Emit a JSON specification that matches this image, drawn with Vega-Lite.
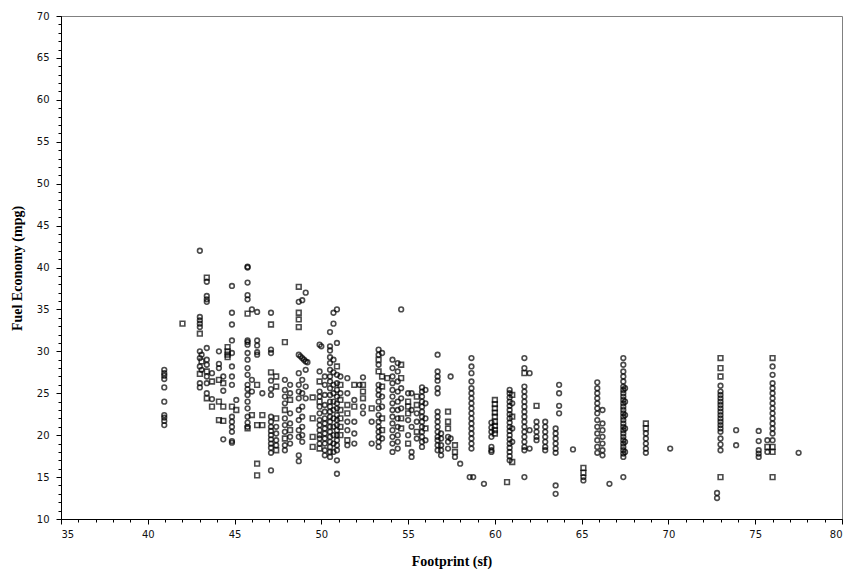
{
"$schema":"https://vega.github.io/schema/vega-lite/v6.json",
"autosize":"none",
"width":781,"height":503,
"padding":{"left":61,"top":16,"right":13,"bottom":66},
"background":"white",
"config":{"view":{"stroke":"#808080","strokeWidth":1}},
"data":{"values":[
{"x":40.95,"y":27.8,"s":"c"},{"x":40.95,"y":27.4,"s":"c"},{"x":40.95,"y":27.1,"s":"c"},{"x":40.95,"y":26.7,"s":"c"},{"x":40.95,"y":25.7,"s":"c"},{"x":40.95,"y":24.0,"s":"c"},{"x":40.95,"y":22.4,"s":"c"},{"x":40.95,"y":22.1,"s":"c"},{"x":40.95,"y":21.7,"s":"c"},{"x":40.95,"y":21.2,"s":"c"},
{"x":42.0,"y":33.3,"s":"q"},
{"x":43.0,"y":42.0,"s":"c"},{"x":43.0,"y":34.1,"s":"c"},{"x":43.0,"y":33.7,"s":"c"},{"x":43.0,"y":33.3,"s":"c"},{"x":43.0,"y":32.9,"s":"c"},{"x":43.0,"y":32.1,"s":"q"},{"x":43.0,"y":30.0,"s":"c"},{"x":43.0,"y":29.2,"s":"c"},{"x":43.0,"y":28.2,"s":"c"},{"x":43.0,"y":27.3,"s":"q"},{"x":43.0,"y":26.2,"s":"c"},{"x":43.0,"y":25.7,"s":"c"},
{"x":43.1,"y":29.6,"s":"c"},{"x":43.1,"y":28.8,"s":"q"},{"x":43.1,"y":27.8,"s":"c"},
{"x":43.4,"y":38.8,"s":"q"},{"x":43.4,"y":38.3,"s":"c"},{"x":43.4,"y":36.6,"s":"c"},{"x":43.4,"y":36.2,"s":"c"},{"x":43.4,"y":35.9,"s":"c"},{"x":43.4,"y":30.4,"s":"c"},{"x":43.4,"y":29.0,"s":"c"},{"x":43.4,"y":28.4,"s":"c"},{"x":43.4,"y":27.6,"s":"q"},{"x":43.4,"y":27.0,"s":"c"},{"x":43.4,"y":26.2,"s":"c"},{"x":43.4,"y":25.0,"s":"c"},{"x":43.4,"y":24.4,"s":"q"},
{"x":43.7,"y":27.4,"s":"c"},{"x":43.7,"y":24.3,"s":"c"},{"x":43.7,"y":23.4,"s":"q"},{"x":43.7,"y":26.4,"s":"q"},
{"x":44.1,"y":30.0,"s":"c"},{"x":44.1,"y":28.5,"s":"c"},{"x":44.1,"y":28.0,"s":"c"},{"x":44.1,"y":26.6,"s":"q"},{"x":44.1,"y":24.0,"s":"q"},{"x":44.1,"y":21.8,"s":"q"},
{"x":44.35,"y":27.0,"s":"c"},{"x":44.35,"y":26.2,"s":"q"},{"x":44.35,"y":25.3,"s":"c"},{"x":44.35,"y":23.4,"s":"q"},{"x":44.35,"y":21.7,"s":"q"},{"x":44.35,"y":19.5,"s":"c"},
{"x":44.6,"y":30.5,"s":"q"},{"x":44.6,"y":30.0,"s":"q"},{"x":44.6,"y":29.6,"s":"q"},{"x":44.6,"y":29.3,"s":"q"},
{"x":44.85,"y":37.8,"s":"c"},{"x":44.85,"y":34.6,"s":"c"},{"x":44.85,"y":33.2,"s":"c"},{"x":44.85,"y":31.3,"s":"c"},{"x":44.85,"y":29.8,"s":"c"},{"x":44.85,"y":28.2,"s":"c"},{"x":44.85,"y":27.0,"s":"c"},{"x":44.85,"y":26.0,"s":"c"},{"x":44.85,"y":23.4,"s":"q"},{"x":44.85,"y":22.2,"s":"c"},{"x":44.85,"y":21.6,"s":"c"},{"x":44.85,"y":21.0,"s":"c"},{"x":44.85,"y":20.4,"s":"c"},{"x":44.85,"y":19.3,"s":"c"},{"x":44.85,"y":19.1,"s":"c"},
{"x":45.1,"y":24.2,"s":"c"},{"x":45.1,"y":23.0,"s":"q"},
{"x":45.75,"y":40.1,"s":"c"},{"x":45.75,"y":40.0,"s":"c"},{"x":45.75,"y":38.2,"s":"c"},{"x":45.75,"y":36.7,"s":"c"},{"x":45.75,"y":36.2,"s":"c"},{"x":45.75,"y":34.5,"s":"q"},{"x":45.75,"y":31.3,"s":"c"},{"x":45.75,"y":31.1,"s":"c"},{"x":45.75,"y":30.8,"s":"c"},{"x":45.75,"y":29.8,"s":"c"},{"x":45.75,"y":29.0,"s":"c"},{"x":45.75,"y":28.0,"s":"c"},{"x":45.75,"y":27.2,"s":"c"},{"x":45.75,"y":26.0,"s":"c"},{"x":45.75,"y":25.5,"s":"c"},{"x":45.75,"y":24.8,"s":"c"},{"x":45.75,"y":24.0,"s":"c"},{"x":45.75,"y":23.2,"s":"c"},{"x":45.75,"y":22.2,"s":"c"},{"x":45.75,"y":21.0,"s":"c"},{"x":45.75,"y":20.8,"s":"q"},{"x":45.75,"y":21.5,"s":"c"},
{"x":46.0,"y":35.0,"s":"c"},{"x":46.0,"y":26.6,"s":"c"},{"x":46.0,"y":25.2,"s":"c"},{"x":46.0,"y":22.4,"s":"q"},
{"x":46.3,"y":34.7,"s":"c"},{"x":46.3,"y":31.3,"s":"c"},{"x":46.3,"y":30.7,"s":"c"},{"x":46.3,"y":29.9,"s":"c"},{"x":46.3,"y":29.6,"s":"c"},{"x":46.3,"y":26.0,"s":"q"},{"x":46.3,"y":21.2,"s":"q"},{"x":46.3,"y":16.6,"s":"q"},{"x":46.3,"y":15.2,"s":"q"},
{"x":46.6,"y":22.4,"s":"q"},{"x":46.6,"y":21.2,"s":"q"},{"x":46.6,"y":25.0,"s":"c"},
{"x":47.1,"y":34.6,"s":"c"},{"x":47.1,"y":33.2,"s":"q"},{"x":47.1,"y":30.2,"s":"c"},{"x":47.1,"y":29.8,"s":"c"},{"x":47.1,"y":27.5,"s":"q"},{"x":47.1,"y":26.5,"s":"c"},{"x":47.1,"y":25.5,"s":"c"},{"x":47.1,"y":24.8,"s":"c"},{"x":47.1,"y":22.2,"s":"c"},{"x":47.1,"y":21.6,"s":"c"},{"x":47.1,"y":21.0,"s":"c"},{"x":47.1,"y":20.5,"s":"c"},{"x":47.1,"y":20.0,"s":"c"},{"x":47.1,"y":19.5,"s":"c"},{"x":47.1,"y":19.0,"s":"c"},{"x":47.1,"y":18.5,"s":"c"},{"x":47.1,"y":17.9,"s":"c"},{"x":47.1,"y":15.8,"s":"c"},
{"x":47.4,"y":27.0,"s":"q"},{"x":47.4,"y":25.8,"s":"q"},{"x":47.4,"y":22.0,"s":"q"},{"x":47.4,"y":21.0,"s":"c"},{"x":47.4,"y":20.2,"s":"c"},{"x":47.4,"y":19.4,"s":"c"},{"x":47.4,"y":18.8,"s":"c"},{"x":47.4,"y":18.2,"s":"q"},
{"x":47.9,"y":31.1,"s":"q"},{"x":47.9,"y":26.6,"s":"c"},{"x":47.9,"y":25.4,"s":"c"},{"x":47.9,"y":24.6,"s":"c"},{"x":47.9,"y":23.8,"s":"c"},{"x":47.9,"y":23.0,"s":"q"},{"x":47.9,"y":22.0,"s":"c"},{"x":47.9,"y":21.2,"s":"c"},{"x":47.9,"y":20.4,"s":"c"},{"x":47.9,"y":19.6,"s":"q"},{"x":47.9,"y":18.8,"s":"c"},{"x":47.9,"y":18.2,"s":"c"},
{"x":48.2,"y":26.0,"s":"c"},{"x":48.2,"y":25.0,"s":"c"},{"x":48.2,"y":24.2,"s":"q"},{"x":48.2,"y":22.6,"s":"c"},{"x":48.2,"y":21.4,"s":"c"},{"x":48.2,"y":20.6,"s":"q"},{"x":48.2,"y":19.8,"s":"c"},{"x":48.2,"y":19.0,"s":"c"},
{"x":48.7,"y":37.7,"s":"q"},{"x":48.7,"y":35.9,"s":"c"},{"x":48.7,"y":34.6,"s":"q"},{"x":48.7,"y":33.8,"s":"q"},{"x":48.7,"y":32.9,"s":"q"},{"x":48.7,"y":29.6,"s":"c"},{"x":48.8,"y":29.4,"s":"c"},{"x":48.9,"y":29.2,"s":"c"},{"x":48.7,"y":27.4,"s":"c"},{"x":48.7,"y":26.0,"s":"c"},{"x":48.7,"y":25.2,"s":"c"},{"x":48.7,"y":24.4,"s":"c"},{"x":48.7,"y":23.0,"s":"c"},{"x":48.7,"y":21.8,"s":"c"},{"x":48.7,"y":20.6,"s":"c"},{"x":48.7,"y":19.8,"s":"c"},{"x":48.7,"y":17.6,"s":"c"},{"x":48.7,"y":16.9,"s":"c"},
{"x":48.9,"y":36.1,"s":"c"},{"x":49.0,"y":29.0,"s":"c"},{"x":49.1,"y":28.8,"s":"c"},{"x":48.9,"y":26.6,"s":"c"},{"x":48.9,"y":25.0,"s":"c"},{"x":48.9,"y":23.4,"s":"c"},{"x":48.9,"y":22.2,"s":"c"},{"x":48.9,"y":21.0,"s":"c"},{"x":48.9,"y":20.0,"s":"c"},{"x":48.9,"y":19.2,"s":"c"},
{"x":49.1,"y":37.0,"s":"c"},{"x":49.2,"y":28.7,"s":"c"},{"x":49.1,"y":27.8,"s":"c"},{"x":49.1,"y":25.8,"s":"c"},{"x":49.1,"y":24.4,"s":"c"},
{"x":49.5,"y":19.8,"s":"q"},{"x":49.5,"y":18.6,"s":"q"},{"x":49.5,"y":24.5,"s":"q"},{"x":49.5,"y":22.0,"s":"q"},
{"x":49.9,"y":30.8,"s":"c"},{"x":50.0,"y":30.6,"s":"c"},{"x":49.9,"y":27.6,"s":"c"},{"x":49.9,"y":26.4,"s":"q"},{"x":49.9,"y":25.2,"s":"c"},{"x":49.9,"y":24.6,"s":"c"},{"x":49.9,"y":24.0,"s":"q"},{"x":49.9,"y":23.4,"s":"c"},{"x":49.9,"y":22.6,"s":"c"},{"x":49.9,"y":21.8,"s":"c"},{"x":49.9,"y":21.2,"s":"c"},{"x":49.9,"y":20.6,"s":"c"},{"x":49.9,"y":20.0,"s":"c"},{"x":49.9,"y":19.6,"s":"c"},{"x":49.9,"y":19.0,"s":"c"},{"x":49.9,"y":18.4,"s":"q"},
{"x":50.2,"y":27.0,"s":"c"},{"x":50.2,"y":26.0,"s":"c"},{"x":50.2,"y":24.8,"s":"c"},{"x":50.2,"y":23.6,"s":"c"},{"x":50.2,"y":22.8,"s":"c"},{"x":50.2,"y":22.0,"s":"c"},{"x":50.2,"y":21.4,"s":"c"},{"x":50.2,"y":20.8,"s":"c"},{"x":50.2,"y":20.2,"s":"c"},{"x":50.2,"y":19.6,"s":"c"},{"x":50.2,"y":19.0,"s":"c"},{"x":50.2,"y":18.2,"s":"c"},{"x":50.2,"y":17.6,"s":"c"},
{"x":50.5,"y":32.3,"s":"c"},{"x":50.5,"y":30.6,"s":"c"},{"x":50.5,"y":30.1,"s":"c"},{"x":50.5,"y":29.3,"s":"c"},{"x":50.5,"y":28.6,"s":"c"},{"x":50.5,"y":27.8,"s":"c"},{"x":50.5,"y":27.0,"s":"c"},{"x":50.5,"y":26.4,"s":"c"},{"x":50.5,"y":25.6,"s":"c"},{"x":50.5,"y":24.8,"s":"c"},{"x":50.5,"y":24.0,"s":"c"},{"x":50.5,"y":23.4,"s":"c"},{"x":50.5,"y":22.8,"s":"c"},{"x":50.5,"y":22.2,"s":"c"},{"x":50.5,"y":21.6,"s":"c"},{"x":50.5,"y":21.0,"s":"c"},{"x":50.5,"y":20.4,"s":"c"},{"x":50.5,"y":19.8,"s":"c"},{"x":50.5,"y":19.2,"s":"c"},{"x":50.5,"y":18.6,"s":"c"},{"x":50.5,"y":18.0,"s":"c"},{"x":50.5,"y":17.4,"s":"c"},
{"x":50.7,"y":34.6,"s":"c"},{"x":50.7,"y":33.3,"s":"c"},{"x":50.7,"y":29.0,"s":"c"},{"x":50.7,"y":27.5,"s":"c"},{"x":50.7,"y":26.0,"s":"c"},{"x":50.7,"y":25.0,"s":"c"},{"x":50.7,"y":24.0,"s":"c"},{"x":50.7,"y":23.0,"s":"c"},{"x":50.7,"y":22.0,"s":"c"},{"x":50.7,"y":21.0,"s":"c"},{"x":50.7,"y":20.0,"s":"c"},{"x":50.7,"y":19.0,"s":"c"},{"x":50.7,"y":18.0,"s":"c"},
{"x":50.9,"y":35.0,"s":"c"},{"x":50.9,"y":31.0,"s":"c"},{"x":50.9,"y":28.2,"s":"q"},{"x":50.9,"y":27.2,"s":"c"},{"x":50.9,"y":26.2,"s":"c"},{"x":50.9,"y":25.4,"s":"c"},{"x":50.9,"y":24.6,"s":"c"},{"x":50.9,"y":23.8,"s":"c"},{"x":50.9,"y":23.2,"s":"c"},{"x":50.9,"y":22.4,"s":"c"},{"x":50.9,"y":21.8,"s":"c"},{"x":50.9,"y":21.2,"s":"c"},{"x":50.9,"y":20.6,"s":"c"},{"x":50.9,"y":20.0,"s":"c"},{"x":50.9,"y":19.4,"s":"c"},{"x":50.9,"y":18.8,"s":"c"},{"x":50.9,"y":18.2,"s":"c"},{"x":50.9,"y":17.0,"s":"c"},{"x":50.9,"y":15.4,"s":"c"},
{"x":51.1,"y":27.0,"s":"c"},{"x":51.1,"y":26.0,"s":"q"},{"x":51.1,"y":25.0,"s":"c"},{"x":51.1,"y":24.2,"s":"q"},{"x":51.1,"y":23.0,"s":"q"},{"x":51.1,"y":22.0,"s":"q"},{"x":51.1,"y":21.0,"s":"q"},{"x":51.1,"y":20.0,"s":"q"},
{"x":51.5,"y":26.8,"s":"c"},{"x":51.5,"y":25.0,"s":"c"},{"x":51.5,"y":23.6,"s":"q"},{"x":51.5,"y":22.6,"s":"q"},{"x":51.5,"y":21.6,"s":"c"},{"x":51.5,"y":20.6,"s":"c"},{"x":51.5,"y":19.4,"s":"q"},{"x":51.5,"y":18.8,"s":"c"},
{"x":51.9,"y":26.0,"s":"q"},{"x":51.9,"y":24.2,"s":"c"},{"x":51.9,"y":23.4,"s":"q"},{"x":51.9,"y":21.6,"s":"c"},{"x":51.9,"y":20.2,"s":"c"},{"x":51.9,"y":19.0,"s":"c"},
{"x":52.2,"y":26.0,"s":"c"},
{"x":52.4,"y":26.9,"s":"c"},{"x":52.4,"y":26.0,"s":"q"},{"x":52.4,"y":25.2,"s":"q"},{"x":52.4,"y":24.4,"s":"q"},{"x":52.4,"y":23.4,"s":"c"},{"x":52.4,"y":22.6,"s":"c"},
{"x":52.9,"y":21.6,"s":"c"},{"x":52.9,"y":19.0,"s":"c"},{"x":52.9,"y":23.2,"s":"q"},
{"x":53.3,"y":30.2,"s":"c"},{"x":53.3,"y":29.6,"s":"c"},{"x":53.3,"y":29.0,"s":"q"},{"x":53.3,"y":28.4,"s":"c"},{"x":53.3,"y":27.6,"s":"q"},{"x":53.3,"y":26.0,"s":"c"},{"x":53.3,"y":25.4,"s":"c"},{"x":53.3,"y":24.8,"s":"c"},{"x":53.3,"y":24.0,"s":"c"},{"x":53.3,"y":23.2,"s":"c"},{"x":53.3,"y":22.4,"s":"c"},{"x":53.3,"y":21.6,"s":"c"},{"x":53.3,"y":21.0,"s":"c"},{"x":53.3,"y":20.4,"s":"c"},{"x":53.3,"y":19.8,"s":"c"},{"x":53.3,"y":19.2,"s":"c"},{"x":53.3,"y":18.6,"s":"c"},
{"x":53.5,"y":29.8,"s":"c"},{"x":53.5,"y":27.0,"s":"q"},{"x":53.5,"y":25.8,"s":"q"},{"x":53.5,"y":24.6,"s":"c"},{"x":53.5,"y":23.4,"s":"c"},{"x":53.5,"y":22.0,"s":"q"},{"x":53.5,"y":20.6,"s":"q"},{"x":53.5,"y":19.6,"s":"c"},
{"x":53.8,"y":26.8,"s":"q"},
{"x":54.1,"y":29.0,"s":"c"},{"x":54.1,"y":28.0,"s":"c"},{"x":54.1,"y":27.0,"s":"c"},{"x":54.1,"y":26.2,"s":"c"},{"x":54.1,"y":25.4,"s":"c"},{"x":54.1,"y":24.6,"s":"c"},{"x":54.1,"y":23.8,"s":"c"},{"x":54.1,"y":23.0,"s":"c"},{"x":54.1,"y":22.2,"s":"c"},{"x":54.1,"y":21.4,"s":"c"},{"x":54.1,"y":20.6,"s":"c"},{"x":54.1,"y":19.8,"s":"c"},{"x":54.1,"y":19.0,"s":"c"},{"x":54.1,"y":18.0,"s":"c"},
{"x":54.4,"y":28.6,"s":"c"},{"x":54.4,"y":27.6,"s":"c"},{"x":54.4,"y":26.4,"s":"c"},{"x":54.4,"y":25.2,"s":"c"},{"x":54.4,"y":24.0,"s":"c"},{"x":54.4,"y":23.0,"s":"c"},{"x":54.4,"y":22.0,"s":"c"},{"x":54.4,"y":21.0,"s":"c"},{"x":54.4,"y":20.0,"s":"c"},{"x":54.4,"y":19.2,"s":"c"},{"x":54.4,"y":18.4,"s":"c"},
{"x":54.6,"y":35.0,"s":"c"},{"x":54.6,"y":28.4,"s":"q"},{"x":54.6,"y":26.8,"s":"q"},{"x":54.6,"y":25.6,"s":"c"},{"x":54.6,"y":24.4,"s":"c"},{"x":54.6,"y":23.2,"s":"c"},{"x":54.6,"y":22.0,"s":"q"},{"x":54.6,"y":20.8,"s":"q"},
{"x":55.0,"y":25.0,"s":"c"},{"x":55.0,"y":24.0,"s":"q"},{"x":55.0,"y":23.4,"s":"q"},{"x":55.0,"y":22.6,"s":"q"},{"x":55.0,"y":21.8,"s":"c"},{"x":55.0,"y":20.0,"s":"c"},{"x":55.0,"y":19.0,"s":"q"},
{"x":55.2,"y":25.0,"s":"c"},{"x":55.2,"y":23.0,"s":"c"},{"x":55.2,"y":21.0,"s":"c"},{"x":55.2,"y":18.0,"s":"c"},{"x":55.2,"y":17.4,"s":"c"},
{"x":55.5,"y":24.6,"s":"q"},{"x":55.5,"y":23.6,"s":"q"},{"x":55.5,"y":22.6,"s":"c"},{"x":55.5,"y":21.6,"s":"c"},{"x":55.5,"y":20.4,"s":"q"},{"x":55.5,"y":19.6,"s":"c"},
{"x":55.8,"y":25.7,"s":"c"},{"x":55.8,"y":25.2,"s":"c"},{"x":55.8,"y":24.6,"s":"c"},{"x":55.8,"y":24.0,"s":"c"},{"x":55.8,"y":23.4,"s":"c"},{"x":55.8,"y":22.8,"s":"c"},{"x":55.8,"y":22.2,"s":"c"},{"x":55.8,"y":21.6,"s":"c"},{"x":55.8,"y":21.0,"s":"c"},{"x":55.8,"y":20.4,"s":"c"},{"x":55.8,"y":19.8,"s":"c"},{"x":55.8,"y":19.2,"s":"c"},{"x":55.8,"y":18.6,"s":"c"},
{"x":56.0,"y":25.4,"s":"c"},{"x":56.0,"y":23.8,"s":"c"},{"x":56.0,"y":22.0,"s":"c"},{"x":56.0,"y":20.8,"s":"q"},{"x":56.0,"y":19.4,"s":"c"},
{"x":56.7,"y":29.6,"s":"c"},{"x":56.7,"y":27.6,"s":"c"},{"x":56.7,"y":27.0,"s":"c"},{"x":56.7,"y":26.5,"s":"c"},{"x":56.7,"y":25.6,"s":"c"},{"x":56.7,"y":25.0,"s":"c"},{"x":56.7,"y":22.8,"s":"c"},{"x":56.7,"y":22.2,"s":"c"},{"x":56.7,"y":21.6,"s":"c"},{"x":56.7,"y":21.0,"s":"c"},{"x":56.7,"y":20.4,"s":"c"},{"x":56.7,"y":19.8,"s":"c"},{"x":56.7,"y":19.4,"s":"c"},{"x":56.7,"y":18.8,"s":"c"},{"x":56.7,"y":18.2,"s":"c"},
{"x":56.9,"y":20.2,"s":"c"},{"x":56.9,"y":19.6,"s":"c"},{"x":56.9,"y":18.8,"s":"c"},{"x":56.9,"y":18.2,"s":"c"},{"x":56.9,"y":17.6,"s":"c"},
{"x":57.3,"y":22.8,"s":"q"},{"x":57.3,"y":21.6,"s":"q"},{"x":57.3,"y":20.8,"s":"q"},{"x":57.3,"y":19.8,"s":"c"},{"x":57.3,"y":19.2,"s":"c"},{"x":57.3,"y":18.4,"s":"c"},
{"x":57.45,"y":27.0,"s":"c"},{"x":57.45,"y":19.6,"s":"c"},
{"x":57.7,"y":18.8,"s":"q"},{"x":57.7,"y":18.0,"s":"q"},{"x":57.7,"y":17.4,"s":"c"},
{"x":58.0,"y":16.6,"s":"c"},
{"x":58.65,"y":29.2,"s":"c"},{"x":58.65,"y":28.2,"s":"c"},{"x":58.65,"y":27.4,"s":"c"},{"x":58.65,"y":26.4,"s":"c"},{"x":58.65,"y":25.6,"s":"c"},{"x":58.65,"y":25.0,"s":"c"},{"x":58.65,"y":24.4,"s":"c"},{"x":58.65,"y":23.8,"s":"c"},{"x":58.65,"y":23.2,"s":"c"},{"x":58.65,"y":22.6,"s":"c"},{"x":58.65,"y":22.0,"s":"c"},{"x":58.65,"y":21.4,"s":"c"},{"x":58.65,"y":20.8,"s":"c"},{"x":58.65,"y":20.2,"s":"c"},{"x":58.65,"y":19.6,"s":"c"},{"x":58.65,"y":19.0,"s":"c"},{"x":58.65,"y":18.4,"s":"c"},{"x":58.55,"y":15.0,"s":"c"},{"x":58.75,"y":15.0,"s":"c"},
{"x":59.37,"y":14.2,"s":"c"},
{"x":59.8,"y":21.5,"s":"c"},{"x":59.8,"y":20.9,"s":"c"},{"x":59.8,"y":20.4,"s":"c"},{"x":59.8,"y":19.8,"s":"c"},{"x":59.8,"y":18.6,"s":"c"},{"x":59.8,"y":18.2,"s":"c"},{"x":59.8,"y":18.0,"s":"c"},
{"x":60.0,"y":24.2,"s":"q"},{"x":60.0,"y":23.7,"s":"q"},{"x":60.0,"y":23.2,"s":"q"},{"x":60.0,"y":22.7,"s":"q"},{"x":60.0,"y":22.2,"s":"q"},{"x":60.0,"y":21.6,"s":"q"},{"x":60.0,"y":21.1,"s":"q"},{"x":60.0,"y":20.6,"s":"q"},{"x":60.0,"y":20.2,"s":"q"},
{"x":60.7,"y":14.4,"s":"q"},
{"x":60.85,"y":25.4,"s":"c"},{"x":60.85,"y":25.0,"s":"c"},{"x":60.85,"y":24.5,"s":"c"},{"x":60.85,"y":24.0,"s":"c"},{"x":60.85,"y":23.5,"s":"c"},{"x":60.85,"y":23.0,"s":"c"},{"x":60.85,"y":22.5,"s":"c"},{"x":60.85,"y":22.0,"s":"c"},{"x":60.85,"y":21.5,"s":"c"},{"x":60.85,"y":21.0,"s":"c"},{"x":60.85,"y":20.5,"s":"c"},{"x":60.85,"y":20.0,"s":"c"},{"x":60.85,"y":19.5,"s":"c"},{"x":60.85,"y":19.0,"s":"c"},{"x":60.85,"y":18.5,"s":"c"},{"x":60.85,"y":18.0,"s":"c"},{"x":60.85,"y":17.5,"s":"c"},{"x":60.85,"y":17.0,"s":"c"},
{"x":61.0,"y":24.8,"s":"q"},{"x":61.0,"y":23.8,"s":"c"},{"x":61.0,"y":22.2,"s":"q"},{"x":61.0,"y":20.8,"s":"c"},{"x":61.0,"y":19.2,"s":"c"},{"x":61.0,"y":16.8,"s":"q"},
{"x":61.7,"y":29.2,"s":"c"},{"x":61.7,"y":28.0,"s":"c"},{"x":61.7,"y":27.4,"s":"q"},{"x":61.7,"y":25.8,"s":"c"},{"x":61.7,"y":25.2,"s":"c"},{"x":61.7,"y":24.6,"s":"c"},{"x":61.7,"y":24.0,"s":"c"},{"x":61.7,"y":23.4,"s":"c"},{"x":61.7,"y":22.8,"s":"c"},{"x":61.7,"y":22.2,"s":"c"},{"x":61.7,"y":21.6,"s":"c"},{"x":61.7,"y":21.0,"s":"c"},{"x":61.7,"y":20.4,"s":"c"},{"x":61.7,"y":19.8,"s":"c"},{"x":61.7,"y":19.2,"s":"c"},{"x":61.7,"y":18.6,"s":"c"},{"x":61.7,"y":18.2,"s":"c"},{"x":61.7,"y":15.0,"s":"c"},
{"x":62.0,"y":27.4,"s":"c"},{"x":62.0,"y":20.6,"s":"c"},{"x":62.0,"y":18.4,"s":"c"},
{"x":62.4,"y":23.5,"s":"q"},{"x":62.4,"y":21.6,"s":"c"},{"x":62.4,"y":21.0,"s":"c"},{"x":62.4,"y":20.4,"s":"c"},{"x":62.4,"y":19.8,"s":"c"},{"x":62.4,"y":19.4,"s":"c"},
{"x":62.9,"y":21.6,"s":"c"},{"x":62.9,"y":21.0,"s":"c"},{"x":62.9,"y":20.4,"s":"c"},{"x":62.9,"y":19.8,"s":"c"},{"x":62.9,"y":19.2,"s":"c"},{"x":62.9,"y":18.6,"s":"c"},{"x":62.9,"y":18.2,"s":"c"},
{"x":63.5,"y":20.8,"s":"c"},{"x":63.5,"y":20.2,"s":"c"},{"x":63.5,"y":19.6,"s":"c"},{"x":63.5,"y":19.0,"s":"c"},{"x":63.5,"y":18.4,"s":"c"},{"x":63.5,"y":17.9,"s":"c"},{"x":63.5,"y":14.0,"s":"c"},{"x":63.5,"y":13.0,"s":"c"},
{"x":63.7,"y":26.0,"s":"c"},{"x":63.7,"y":25.0,"s":"c"},{"x":63.7,"y":23.5,"s":"c"},{"x":63.7,"y":22.6,"s":"c"},
{"x":64.5,"y":18.3,"s":"c"},
{"x":65.1,"y":16.1,"s":"q"},{"x":65.1,"y":15.5,"s":"q"},{"x":65.1,"y":15.0,"s":"c"},{"x":65.1,"y":14.6,"s":"c"},
{"x":65.9,"y":26.3,"s":"c"},{"x":65.9,"y":25.6,"s":"c"},{"x":65.9,"y":25.0,"s":"c"},{"x":65.9,"y":24.4,"s":"c"},{"x":65.9,"y":23.8,"s":"c"},{"x":65.9,"y":23.2,"s":"c"},{"x":65.9,"y":22.6,"s":"c"},{"x":65.9,"y":21.8,"s":"c"},{"x":65.9,"y":21.0,"s":"c"},{"x":65.9,"y":20.2,"s":"c"},{"x":65.9,"y":19.4,"s":"c"},{"x":65.9,"y":18.6,"s":"c"},{"x":65.9,"y":17.9,"s":"c"},
{"x":66.2,"y":23.0,"s":"c"},{"x":66.2,"y":21.4,"s":"c"},{"x":66.2,"y":20.6,"s":"c"},{"x":66.2,"y":19.8,"s":"c"},{"x":66.2,"y":19.0,"s":"c"},{"x":66.2,"y":18.2,"s":"c"},{"x":66.2,"y":17.6,"s":"c"},
{"x":66.6,"y":14.2,"s":"c"},
{"x":67.4,"y":29.2,"s":"c"},{"x":67.4,"y":28.4,"s":"c"},{"x":67.4,"y":27.6,"s":"c"},{"x":67.4,"y":27.0,"s":"c"},{"x":67.4,"y":26.4,"s":"c"},{"x":67.4,"y":25.8,"s":"c"},{"x":67.4,"y":25.4,"s":"c"},{"x":67.4,"y":25.0,"s":"c"},{"x":67.4,"y":24.6,"s":"c"},{"x":67.4,"y":24.2,"s":"c"},{"x":67.4,"y":23.8,"s":"c"},{"x":67.4,"y":23.4,"s":"c"},{"x":67.4,"y":23.0,"s":"c"},{"x":67.4,"y":22.6,"s":"c"},{"x":67.4,"y":22.2,"s":"c"},{"x":67.4,"y":21.8,"s":"c"},{"x":67.4,"y":21.4,"s":"c"},{"x":67.4,"y":21.0,"s":"c"},{"x":67.4,"y":20.6,"s":"c"},{"x":67.4,"y":20.2,"s":"c"},{"x":67.4,"y":19.8,"s":"c"},{"x":67.4,"y":19.4,"s":"c"},{"x":67.4,"y":19.0,"s":"c"},{"x":67.4,"y":18.6,"s":"c"},{"x":67.4,"y":18.2,"s":"c"},{"x":67.4,"y":17.8,"s":"c"},{"x":67.4,"y":17.4,"s":"c"},{"x":67.4,"y":15.0,"s":"c"},
{"x":67.5,"y":25.6,"s":"c"},{"x":67.5,"y":24.0,"s":"c"},{"x":67.5,"y":22.4,"s":"c"},{"x":67.5,"y":20.8,"s":"c"},{"x":67.5,"y":19.2,"s":"c"},{"x":67.5,"y":18.0,"s":"c"},
{"x":68.7,"y":21.4,"s":"q"},{"x":68.7,"y":20.8,"s":"q"},{"x":68.7,"y":20.2,"s":"c"},{"x":68.7,"y":19.6,"s":"c"},{"x":68.7,"y":19.0,"s":"c"},{"x":68.7,"y":18.4,"s":"c"},{"x":68.7,"y":17.9,"s":"c"},
{"x":70.1,"y":18.4,"s":"c"},
{"x":72.8,"y":13.1,"s":"c"},{"x":72.8,"y":12.5,"s":"c"},
{"x":73.0,"y":29.2,"s":"q"},{"x":73.0,"y":28.0,"s":"q"},{"x":73.0,"y":27.0,"s":"q"},{"x":73.0,"y":25.9,"s":"c"},{"x":73.0,"y":25.2,"s":"c"},{"x":73.0,"y":24.8,"s":"c"},{"x":73.0,"y":24.4,"s":"c"},{"x":73.0,"y":24.0,"s":"c"},{"x":73.0,"y":23.6,"s":"c"},{"x":73.0,"y":23.2,"s":"c"},{"x":73.0,"y":22.8,"s":"c"},{"x":73.0,"y":22.4,"s":"c"},{"x":73.0,"y":22.0,"s":"c"},{"x":73.0,"y":21.6,"s":"c"},{"x":73.0,"y":21.2,"s":"c"},{"x":73.0,"y":20.8,"s":"c"},{"x":73.0,"y":20.4,"s":"c"},{"x":73.0,"y":19.6,"s":"c"},{"x":73.0,"y":18.9,"s":"c"},{"x":73.0,"y":18.2,"s":"c"},{"x":73.0,"y":15.0,"s":"q"},
{"x":73.9,"y":20.6,"s":"c"},{"x":73.9,"y":18.8,"s":"c"},
{"x":75.2,"y":20.5,"s":"c"},{"x":75.2,"y":19.3,"s":"c"},{"x":75.2,"y":18.2,"s":"c"},{"x":75.2,"y":17.8,"s":"c"},{"x":75.2,"y":17.4,"s":"c"},
{"x":75.7,"y":19.4,"s":"c"},{"x":75.7,"y":18.6,"s":"q"},{"x":75.7,"y":18.0,"s":"c"},
{"x":76.0,"y":29.2,"s":"q"},{"x":76.0,"y":28.2,"s":"c"},{"x":76.0,"y":27.2,"s":"c"},{"x":76.0,"y":26.2,"s":"c"},{"x":76.0,"y":25.6,"s":"c"},{"x":76.0,"y":25.0,"s":"c"},{"x":76.0,"y":24.4,"s":"c"},{"x":76.0,"y":23.8,"s":"c"},{"x":76.0,"y":23.2,"s":"c"},{"x":76.0,"y":22.6,"s":"c"},{"x":76.0,"y":22.0,"s":"c"},{"x":76.0,"y":21.4,"s":"c"},{"x":76.0,"y":20.8,"s":"c"},{"x":76.0,"y":20.2,"s":"c"},{"x":76.0,"y":19.4,"s":"c"},{"x":76.0,"y":18.6,"s":"q"},{"x":76.0,"y":18.0,"s":"q"},{"x":76.0,"y":15.0,"s":"q"},
{"x":77.5,"y":17.9,"s":"c"}
]},
"resolve":{"axis":{"x":"independent","y":"independent"}},
"layer":[
{"mark":{"type":"point","opacity":0},
 "encoding":{
  "x":{"field":"x","type":"quantitative","scale":{"domain":[35,80],"nice":false,"zero":false},
   "axis":{"orient":"bottom","values":[35,36,37,38,39,40,41,42,43,44,45,46,47,48,49,50,51,52,53,54,55,56,57,58,59,60,61,62,63,64,65,66,67,68,69,70,71,72,73,74,75,76,77,78,79,80],"labels":false,"title":null,"domain":false,"grid":false,"tickSize":3,"tickColor":"black","tickWidth":1}},
  "y":{"field":"y","type":"quantitative","scale":{"domain":[10,70],"nice":false,"zero":false},
   "axis":{"orient":"left","values":[10,11,12,13,14,15,16,17,18,19,20,21,22,23,24,25,26,27,28,29,30,31,32,33,34,35,36,37,38,39,40,41,42,43,44,45,46,47,48,49,50,51,52,53,54,55,56,57,58,59,60,61,62,63,64,65,66,67,68,69,70],"labels":false,"title":null,"domain":false,"grid":false,"tickSize":3,"tickColor":"black","tickWidth":1}}
 }},
{"mark":{"type":"point","filled":false,"stroke":"black","strokeWidth":1.6,"size":22},
 "encoding":{
  "x":{"field":"x","type":"quantitative","scale":{"domain":[35,80],"nice":false,"zero":false},
   "axis":{"orient":"bottom","values":[35,40,45,50,55,60,65,70,75,80],"grid":false,"title":"Footprint (sf)","domainColor":"black","tickColor":"black","tickSize":5,"labelFont":"DejaVu Sans","labelFontSize":10,"labelColor":"#111","labelPadding":5,"titleFont":"Liberation Serif","titleFontSize":14,"titleFontWeight":"bold","titleColor":"black","titleY":42,"titleBaseline":"middle"}},
  "y":{"field":"y","type":"quantitative","scale":{"domain":[10,70],"nice":false,"zero":false},
   "axis":{"orient":"left","values":[10,15,20,25,30,35,40,45,50,55,60,65,70],"grid":false,"title":"Fuel Economy (mpg)","domainColor":"black","tickColor":"black","tickSize":5,"labelFont":"DejaVu Sans","labelFontSize":10,"labelColor":"#111","labelPadding":7,"titleFont":"Liberation Serif","titleFontSize":14,"titleFontWeight":"bold","titleColor":"black","titleX":-44,"titleY":252,"titleBaseline":"middle"}},
  "shape":{"field":"s","type":"nominal","scale":{"domain":["c","q"],"range":["circle","square"]},"legend":null}
 }}
]
}
